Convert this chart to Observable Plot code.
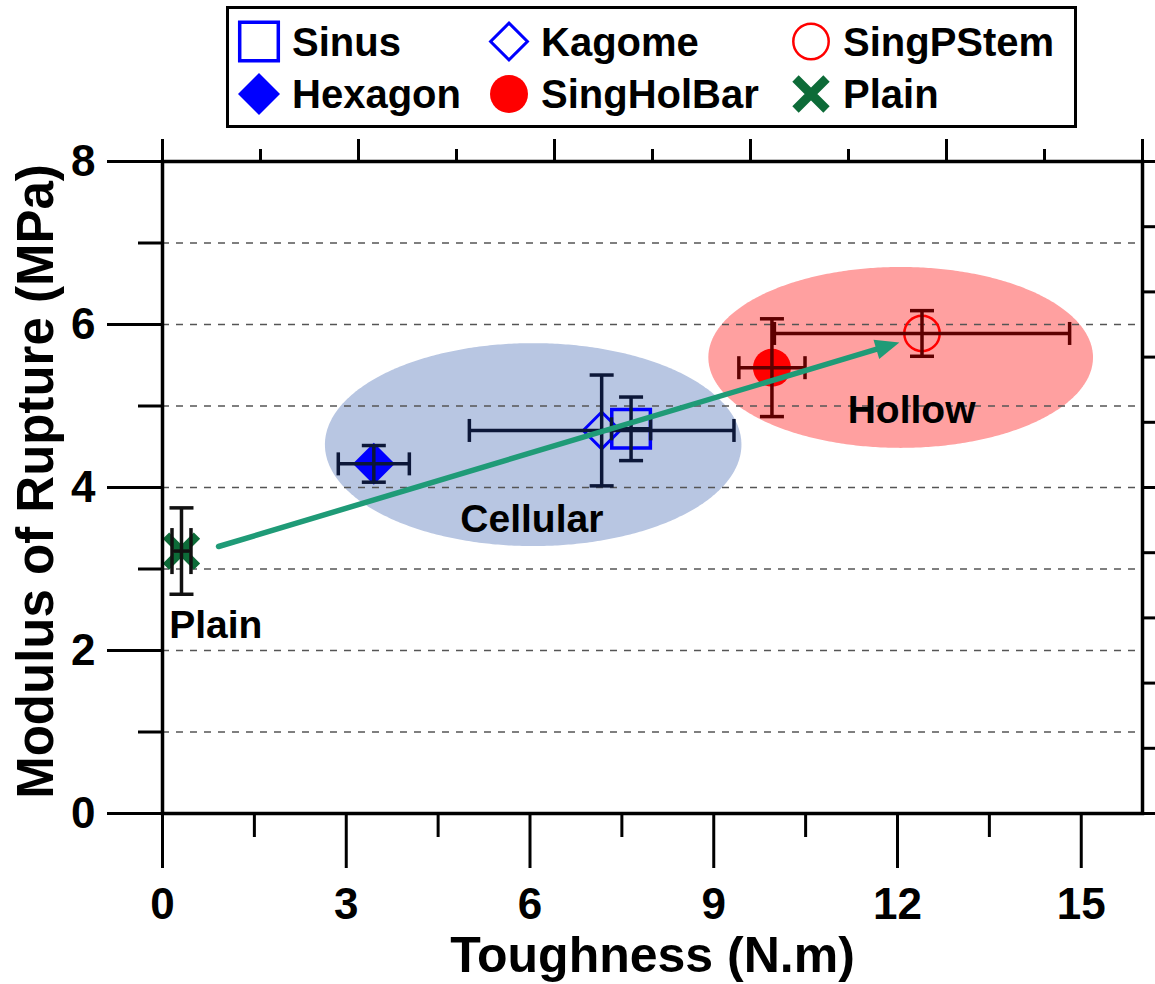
<!DOCTYPE html>
<html>
<head>
<meta charset="utf-8">
<script src="https://cdn.jsdelivr.net/npm/d3@7"></script>
<script src="https://cdn.jsdelivr.net/npm/@observablehq/plot@0.6"></script>
<style>
  html, body { margin: 0; padding: 0; background: #fff; overflow: hidden; }
  #chart { width: 1155px; font-family: "Liberation Sans", Arial, sans-serif; font-weight: bold; }
  #chart svg { display: block; }
</style>
</head>
<body>
<div id="chart"></div>
<script>
// Toughness vs. modulus of rupture for six beam designs (mean ± spread)
const series       = ["Sinus", "Kagome", "SingPStem", "Hexagon", "SingHolBar", "Plain"];
const toughness    = [7.65, 7.17, 12.40, 3.45, 9.95, 0.31];   // N.m
const toughnessErr = [0.32, 2.16, 2.41, 0.58, 0.54, 0.155];
const rupture      = [4.72, 4.70, 5.89, 4.29, 5.47, 3.22];    // MPa
const ruptureErr   = [0.39, 0.68, 0.28, 0.225, 0.60, 0.53];

// Shaded group outlines (centre and half-axes in data units)
const groupNames = ["Cellular", "Hollow"];
const groupCx    = [6.06, 12.06];
const groupCy    = [4.52, 5.59];
const groupRx    = [3.40, 3.14];
const groupRy    = [1.245, 1.11];

// Annotations
const noteText = ["Plain", "Cellular", "Hollow"];
const noteX    = [0.87, 6.03, 12.23];
const noteY    = [2.31, 3.61, 4.95];

// Trend arrow from plain to hollow designs
const trendFrom = [0.915, 3.276];
const trendTo   = [12.03, 5.78];

// Axis ticks
const xTicks      = [0, 3, 6, 9, 12, 15];
const xMinorTicks = [1.5, 4.5, 7.5, 10.5, 13.5];
const yTicks      = [0, 2, 4, 6, 8];
const yMinorTicks = [1, 3, 5, 7];
const topTicks      = [0, 3.2, 6.4, 9.6, 12.8, 16];
const topMinorTicks = [1.6, 4.8, 8, 11.2, 14.4];
const rightTicks      = [0, 1.6, 3.2, 4.8, 6.4, 8];
const rightMinorTicks = [0.8, 2.4, 4, 5.6, 7.2];
const gridLevels = [1, 2, 3, 4, 5, 6, 7];

// ---- marker shapes (size = r²π, so r is recovered inside draw) ----
const rOf = s => Math.sqrt(s / Math.PI);
const shapes = {
  square:  {draw(c, s) { const r = rOf(s); c.rect(-r, -r, 2 * r, 2 * r); }},
  diamond: {draw(c, s) { const r = rOf(s); c.moveTo(0, -r); c.lineTo(r, 0); c.lineTo(0, r); c.lineTo(-r, 0); c.closePath(); }},
  circle:  {draw(c, s) { const r = rOf(s); c.moveTo(r, 0); c.arc(0, 0, r, 0, 2 * Math.PI); }},
  cross:   {draw(c, s) { const r = rOf(s); c.moveTo(-r, -r); c.lineTo(r, r); c.moveTo(r, -r); c.lineTo(-r, r); }},
  hbar:    {draw(c, s) { const r = rOf(s); c.moveTo(-r, 0); c.lineTo(r, 0); }},
  vbar:    {draw(c, s) { const r = rOf(s); c.moveTo(0, -r); c.lineTo(0, r); }},
  head:    {draw(c, s) { const r = rOf(s); c.moveTo(0, 0); c.lineTo(-0.5 * r, 1.2 * r); c.lineTo(0.5 * r, 1.2 * r); c.closePath(); }}
};

const look = {
  Sinus:      {shape: "square",  r: 19.3, fill: "none",    stroke: "#0000ff", sw: 3.5, err: "#0c1738", xcap: 11.5},
  Kagome:     {shape: "diamond", r: 18.4, fill: "none",    stroke: "#0000ff", sw: 3,   err: "#0c1738", xcap: 11.5},
  SingPStem:  {shape: "circle",  r: 17.7, fill: "none",    stroke: "#ff0000", sw: 2.5, err: "#5e0000", xcap: 11.5},
  Hexagon:    {shape: "diamond", r: 21,   fill: "#0000ff", stroke: "none",    sw: 0,   err: "#0c1738", xcap: 11.5},
  SingHolBar: {shape: "circle",  r: 19,   fill: "#ff0000", stroke: "none",    sw: 0,   err: "#5e0000", xcap: 11.5},
  Plain:      {shape: "cross",   r: 15.5, fill: "none",    stroke: "#0d6b38", sw: 9,   err: "#111111", xcap: 23}
};
const groupFill = {Cellular: "#b8c6e2", Hollow: "#ffa0a0"};
const trendColor = "#1f9b77";

const rows = series.map((name, i) => ({
  name, x: toughness[i], xe: toughnessErr[i], y: rupture[i], ye: ruptureErr[i]
}));

// ---- layout ----
const W = 1155, LEGEND_H = 134, H = 984 - LEGEND_H;
const M = {top: 27, right: 13, bottom: 171, left: 162};
const kx = (W - M.left - M.right) / 16, ky = (H - M.top - M.bottom) / 8;
const headAngle = 90 - Math.atan2((trendTo[1] - trendFrom[1]) * ky, (trendTo[0] - trendFrom[0]) * kx) * 180 / Math.PI;

// ---- legend ----
const legendCols = [259, 509, 811], legendTextX = [292, 541, 843], legendRows = [41.5, 94];
const legend = d3.create("svg").attr("width", W).attr("height", LEGEND_H)
  .style("font-family", '"Liberation Sans", Arial, sans-serif').style("font-weight", "bold");
legend.append("rect").attr("x", 227.5).attr("y", 7.5).attr("width", 848).attr("height", 119)
  .attr("fill", "#fff").attr("stroke", "#000").attr("stroke-width", 3);
series.forEach((name, i) => {
  const L = look[name], col = i % 3, row = Math.floor(i / 3);
  legend.append("path")
    .attr("transform", `translate(${legendCols[col]},${legendRows[row]})`)
    .attr("d", d3.symbol(shapes[L.shape], Math.PI * L.r * L.r)())
    .attr("fill", L.fill).attr("stroke", L.stroke).attr("stroke-width", L.sw);
  legend.append("text").attr("x", legendTextX[col]).attr("y", legendRows[row] + 14.4)
    .attr("font-size", 40).attr("fill", "#000").text(name);
});
document.getElementById("chart").append(legend.node());

// ---- plot ----
const outlineMarks = groupNames.map((g, i) => Plot.areaY(
  d3.range(0, 241).map(k => {
    const t = Math.PI * (1 - k / 240), h = groupRy[i] * Math.sin(t);
    return {x: groupCx[i] + groupRx[i] * Math.cos(t), y1: groupCy[i] - h, y2: groupCy[i] + h};
  }),
  {x: "x", y1: "y1", y2: "y2", fill: groupFill[g], curve: "linear"}
));

const pointMarks = rows.map(d => {
  const L = look[d.name];
  return Plot.dot([d], {x: "x", y: "y", symbol: shapes[L.shape], r: L.r,
    fill: L.fill, stroke: L.stroke, strokeWidth: L.sw});
});

const errorMarks = rows.flatMap(d => {
  const L = look[d.name], common = {stroke: L.err, strokeWidth: 3.5};
  return [
    Plot.link([d], {x1: e => e.x - e.xe, x2: e => e.x + e.xe, y1: "y", y2: "y", ...common}),
    Plot.link([d], {x1: "x", x2: "x", y1: e => e.y - e.ye, y2: e => e.y + e.ye, ...common}),
    Plot.dot([d], {x: e => e.x - e.xe, y: "y", symbol: shapes.vbar, r: L.xcap, ...common}),
    Plot.dot([d], {x: e => e.x + e.xe, y: "y", symbol: shapes.vbar, r: L.xcap, ...common}),
    Plot.dot([d], {x: "x", y: e => e.y - e.ye, symbol: shapes.hbar, r: 12, ...common}),
    Plot.dot([d], {x: "x", y: e => e.y + e.ye, symbol: shapes.hbar, r: 12, ...common})
  ];
});

const tickStyle = {strokeWidth: 3, label: null};

const chart = Plot.plot({
  width: W, height: H,
  marginTop: M.top, marginRight: M.right, marginBottom: M.bottom, marginLeft: M.left,
  x: {domain: [0, 16], axis: null},
  y: {domain: [0, 8], axis: null},
  style: {fontFamily: '"Liberation Sans", Arial, sans-serif', fontWeight: "bold", fontSize: "44px", color: "#000", background: "#fff", overflow: "visible"},
  marks: [
    ...outlineMarks,
    Plot.ruleY(gridLevels, {stroke: "#555", strokeWidth: 1.5, strokeDasharray: "7,7"}),
    ...pointMarks,
    ...errorMarks,
    Plot.arrow([0], {x1: () => trendFrom[0], y1: () => trendFrom[1], x2: () => trendTo[0], y2: () => trendTo[1],
      stroke: trendColor, strokeWidth: 5.5, headLength: 0, insetEnd: 14}),
    Plot.dot([0], {x: () => trendTo[0], y: () => trendTo[1], symbol: shapes.head, r: 20,
      fill: trendColor, stroke: "none", rotate: headAngle}),
    Plot.text(noteText, {x: (d, i) => noteX[i], y: (d, i) => noteY[i], text: d => d,
      fontSize: 39, fontWeight: "bold", fill: "#000", lineAnchor: "middle"}),
    // axes
    Plot.axisX({ticks: xTicks, tickSize: 55, tickPadding: 19, fontSize: 44, ...tickStyle}),
    Plot.axisX({ticks: xMinorTicks, tickSize: 24, fill: "none", ...tickStyle}),
    Plot.axisX({anchor: "top", ticks: topTicks, tickSize: 23, fill: "none", ...tickStyle}),
    Plot.axisX({anchor: "top", ticks: topMinorTicks, tickSize: 13, fill: "none", ...tickStyle}),
    Plot.axisY({ticks: yTicks, tickSize: 55, tickPadding: 12, fontSize: 44, ...tickStyle}),
    Plot.axisY({ticks: yMinorTicks, tickSize: 24, fill: "none", ...tickStyle}),
    Plot.axisY({anchor: "right", ticks: rightTicks, tickSize: 23, fill: "none", ...tickStyle}),
    Plot.axisY({anchor: "right", ticks: rightMinorTicks, tickSize: 13, fill: "none", ...tickStyle}),
    Plot.frame({stroke: "#000", strokeWidth: 3.5}),
    // axis titles
    Plot.text(["Toughness (N.m)"], {text: d => d, frameAnchor: "bottom", dy: 142, fontSize: 50,
      fontWeight: "bold", textAnchor: "middle", lineAnchor: "middle", fill: "#000"}),
    Plot.text(["Modulus of Rupture (MPa)"], {text: d => d, frameAnchor: "left", dx: -125.5, dy: -6, rotate: -90,
      fontSize: 51, fontWeight: "bold", textAnchor: "middle", lineAnchor: "middle", fill: "#000"})
  ]
});
document.getElementById("chart").append(chart);
</script>
</body>
</html>
